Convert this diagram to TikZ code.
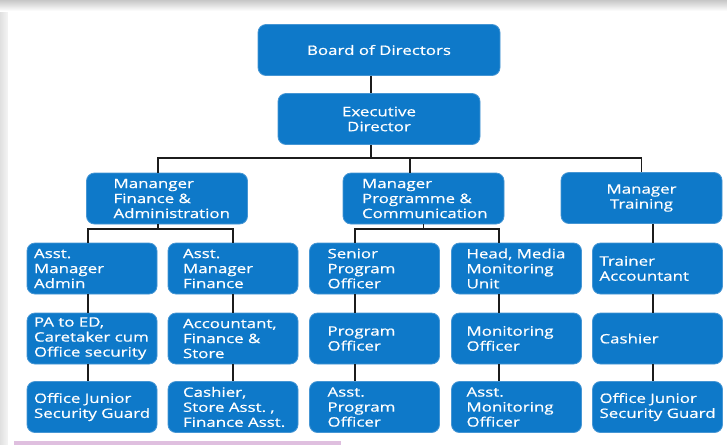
\documentclass[tikz,border=0pt]{standalone}
\usepackage{fontspec}
\newfontfamily\orgfont{Open Sans}[FakeStretch=1.3,FakeBold=0.6]
\definecolor{boxblue}{RGB}{14,121,201}
\definecolor{boxedge}{RGB}{70,150,212}
\definecolor{linkgray}{RGB}{28,28,28}
\begin{document}
\begin{tikzpicture}[x=1pt,y=-1pt,
  box/.style={draw=boxedge,line width=0.8pt,fill=boxblue,rounded corners=8pt,text=white,
    inner ysep=0pt,minimum height=51pt,font=\orgfont\fontsize{13}{15}\selectfont},
  top/.style={box,align=center,minimum width=#1},
  mgr/.style={box,align=left,inner xsep=#1,text width=161pt-2*#1},
  post/.style={box,align=left,inner xsep=#1,text width=130pt-2*#1},
  link/.style={draw=linkgray,line width=1.6pt}]
\useasboundingbox (0,0) rectangle (727,445);
% page
\fill[white] (0,0) rectangle (727,445);
\foreach \i in {0,...,11}
  \fill[black!\the\numexpr 22-2*\i\relax] (0,\i) rectangle (727,\i+1);
\foreach \i in {0,...,7}
  \fill[black!\the\numexpr 12-\i\relax] (\i,12) rectangle (\i+1,445);
\fill[violet!25] (14,441) rectangle (341,445);
%
\node[top=242pt] (bod) at (379,50) {Board of Directors};
\node[top=202pt] (ed) at (379,119) {Executive\\Director};
\node[mgr=27pt] (mfa) at (167,198.5) {Mananger\\Finance~\&\\Administration};
\node[mgr=19pt] (mpc) at (423.5,198.5) {Manager\\Programme~\&\\Communication};
\node[top=161pt] (mt) at (641.5,198) {Manager\\Training};
%
\node[post=7pt] (am) at (92,268.5) {Asst.\\Manager\\Admin};
\node[post=15pt] (amf) at (233,268.5) {Asst.\\Manager\\Finance};
\node[post=18pt] (spo) at (374.5,268.5) {Senior\\Program\\Officer};
\node[post=15pt] (hmm) at (516.5,268.5) {Head,~Media\\Monitoring\\Unit};
\node[post=7pt] (ta) at (657.5,268.5) {Trainer\\Accountant};
%
\node[post=7pt] (pa) at (92,338.5) {PA~to~ED,\\Caretaker~cum\\Office~security};
\node[post=15pt] (acc) at (233,338.5) {Accountant,\\Finance~\&\\Store};
\node[post=18pt] (po) at (374.5,338.5) {Program\\Officer};
\node[post=15pt] (mo) at (516.5,338.5) {Monitoring\\Officer};
\node[post=7pt] (cas) at (657.5,338.5) {Cashier};
%
\node[post=7pt] (oja) at (92,407) {Office~Junior\\Security~Guard};
\node[post=15pt] (csa) at (233,407) {Cashier,\\Store~Asst.~,\\Finance~Asst.};
\node[post=18pt] (apo) at (374.5,407) {Asst.\\Program\\Officer};
\node[post=15pt] (amo) at (516.5,407) {Asst.\\Monitoring\\Officer};
\node[post=7pt] (ojb) at (657.5,407) {Office~Junior\\Security~Guard};
%
\coordinate (c0) at (371,0);
\coordinate (m1) at (158,0);
\coordinate (m2) at (410,0);
\coordinate (c1) at (88,0);
\coordinate (c2) at (233,0);
\coordinate (c3) at (355,0);
\coordinate (c4) at (499,0);
\coordinate (c5) at (653,0);
\coordinate (bus) at (0,158);
\coordinate (bus2) at (0,229);
%
\draw[link] (bod.south -| c0) -- (ed.north -| c0);
\draw[link] (ed.south -| c0) -- (c0 |- bus);
\draw[link] (mfa.north -| m1) |- (mt.north |- bus) -- (mt.north);
\draw[link] (mpc.north -| m2) -- (m2 |- bus);
%
\draw[link] (mfa.south -| m1) -- (m1 |- bus2);
\draw[link] (am.north -| c1) -- (c1 |- bus2) -- (c2 |- bus2) -- (amf.north -| c2);
\draw[link] (mpc.south) -- (mpc.south |- bus2);
\draw[link] (spo.north -| c3) -- (c3 |- bus2) -- (c4 |- bus2) -- (hmm.north -| c4);
\draw[link] (mt.south -| c5) -- (ta.north -| c5);
%
\foreach \c/\a/\b/\d in {c1/am/pa/oja,c2/amf/acc/csa,c3/spo/po/apo,c4/hmm/mo/amo,c5/ta/cas/ojb}
  \draw[link] (\a.south -| \c) -- (\b.north -| \c) (\b.south -| \c) -- (\d.north -| \c);
\end{tikzpicture}
\end{document}
